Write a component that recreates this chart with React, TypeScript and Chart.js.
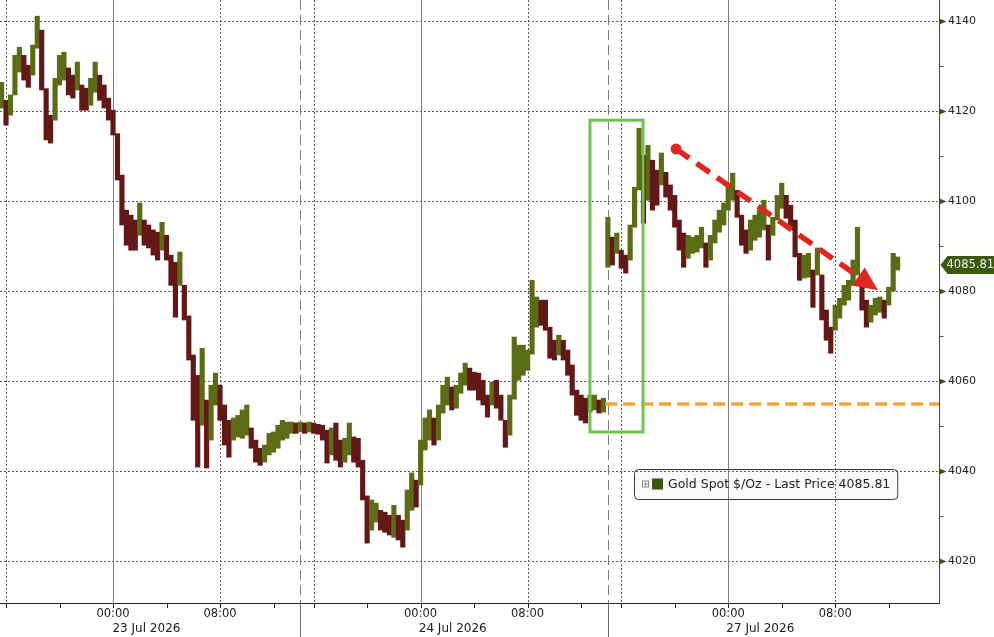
import React, { useEffect, useRef } from 'react';
import { Chart, registerables } from 'chart.js';

Chart.register(...registerables);

// ---------------- data ----------------
const BAR_START_HOUR = -25 / 3; // hours relative to 23 Jul 00:00 (session gaps removed)
const BAR_STEP_HOURS = 1 / 3;

const HIGHS = [
  4126.4, 4122.4, 4123.6, 4132.4, 4134.2, 4132.4, 4130.2, 4134.7, 4141.1, 4138.0,
  4125.0, 4119.1, 4127.3, 4132.4, 4133.1, 4129.6, 4128.0, 4130.9, 4125.8, 4125.1,
  4127.3, 4130.9, 4128.0, 4125.8, 4122.9, 4120.2, 4115.0, 4105.8, 4098.0, 4096.9,
  4095.8, 4099.6, 4095.8, 4094.7, 4093.6, 4093.1, 4095.3, 4092.4, 4088.0, 4086.4,
  4088.7, 4081.3, 4074.5, 4065.8, 4061.3, 4067.3, 4055.8, 4059.1, 4061.8, 4059.1,
  4054.7, 4051.3, 4051.8, 4052.4, 4053.6, 4054.7, 4049.6, 4046.9, 4045.1, 4045.8,
  4048.4, 4048.7, 4050.2, 4051.3, 4050.9, 4050.9, 4050.7, 4050.9, 4050.7, 4050.9,
  4050.7, 4050.4, 4050.2, 4049.1, 4049.6, 4050.7, 4046.9, 4047.3, 4050.7, 4047.6,
  4047.3, 4042.4, 4034.5, 4033.6, 4032.9, 4031.3, 4030.9, 4030.2, 4032.4, 4030.2,
  4029.1, 4035.8, 4039.6, 4038.0, 4046.9, 4051.8, 4053.6, 4051.8, 4054.7, 4059.1,
  4060.9, 4058.7, 4059.1, 4061.8, 4064.0, 4062.9, 4062.0, 4061.8, 4060.2, 4056.9,
  4059.8, 4060.2, 4056.9, 4051.3, 4056.9, 4069.8, 4068.0, 4068.0, 4066.9, 4082.4,
  4078.7, 4078.0, 4078.0, 4072.0, 4069.1, 4070.2, 4069.1, 4066.9, 4063.6, 4058.0,
  4056.9, 4056.2, 4056.9, 4056.9, 4055.8, 4056.2, 4096.4, 4092.0, 4092.9, 4089.1,
  4088.0, 4094.7, 4103.1, 4116.2, 4110.2, 4112.4, 4109.1, 4106.9, 4110.7, 4106.4,
  4103.6, 4101.3, 4095.8, 4092.9, 4092.4, 4092.0, 4092.4, 4094.2, 4090.7, 4092.4,
  4095.8, 4098.0, 4099.6, 4103.6, 4106.2, 4102.4, 4096.9, 4093.6, 4095.8, 4096.9,
  4098.0, 4100.2, 4094.7, 4096.4, 4101.3, 4104.0, 4101.3, 4099.1, 4095.8, 4088.4,
  4088.0, 4088.4, 4084.7, 4089.6, 4083.6, 4075.8, 4072.0, 4076.9, 4078.4, 4081.3,
  4082.4, 4086.9, 4094.2, 4083.6, 4078.0, 4076.9, 4078.4, 4078.7, 4078.0, 4080.9,
  4088.4, 4087.6,
];

const LOWS = [
  4120.7, 4116.9, 4119.1, 4123.6, 4128.7, 4126.9, 4125.3, 4128.0, 4134.0, 4124.7,
  4113.6, 4112.9, 4118.0, 4125.8, 4126.9, 4123.6, 4122.9, 4124.7, 4120.2, 4120.2,
  4121.3, 4124.2, 4122.4, 4120.7, 4118.0, 4114.7, 4104.7, 4094.7, 4090.2, 4089.1,
  4089.1, 4092.4, 4090.2, 4089.6, 4088.0, 4086.9, 4089.1, 4086.9, 4081.3, 4074.2,
  4081.3, 4073.6, 4064.7, 4051.3, 4040.9, 4050.2, 4040.7, 4046.9, 4054.7, 4051.3,
  4045.8, 4043.1, 4046.9, 4047.6, 4047.3, 4048.0, 4045.1, 4042.0, 4041.3, 4042.0,
  4043.6, 4044.2, 4045.1, 4046.9, 4047.3, 4048.4, 4048.4, 4048.7, 4048.4, 4048.7,
  4048.4, 4048.2, 4046.9, 4041.8, 4043.6, 4042.4, 4040.9, 4042.0, 4043.6, 4042.0,
  4040.9, 4033.6, 4024.0, 4026.9, 4028.7, 4026.9, 4026.4, 4025.8, 4025.3, 4024.7,
  4023.1, 4026.9, 4031.3, 4032.0, 4036.9, 4044.7, 4046.9, 4045.8, 4046.9, 4052.9,
  4054.7, 4053.6, 4054.0, 4057.3, 4059.1, 4058.0, 4058.0, 4055.8, 4054.7, 4052.0,
  4054.7, 4054.0, 4051.3, 4045.3, 4048.0, 4056.0, 4060.2, 4061.3, 4062.4, 4066.0,
  4072.0, 4072.4, 4071.3, 4065.1, 4064.7, 4065.8, 4064.7, 4061.3, 4056.9, 4052.4,
  4051.3, 4050.7, 4053.1, 4053.6, 4052.9, 4053.1, 4085.3, 4085.8, 4088.4, 4085.1,
  4084.0, 4086.9, 4094.2, 4102.5, 4095.1, 4100.2, 4098.0, 4099.1, 4103.6, 4100.9,
  4098.0, 4094.2, 4089.1, 4085.3, 4087.3, 4088.4, 4088.7, 4089.6, 4085.3, 4086.9,
  4090.7, 4093.1, 4094.7, 4098.0, 4100.2, 4096.4, 4090.2, 4088.4, 4089.1, 4091.3,
  4092.0, 4093.6, 4086.9, 4092.4, 4095.8, 4098.4, 4096.2, 4093.6, 4087.6, 4082.4,
  4082.9, 4083.1, 4076.4, 4083.6, 4073.6, 4069.1, 4066.2, 4071.3, 4074.0, 4076.9,
  4078.0, 4081.3, 4083.6, 4075.8, 4072.0, 4073.1, 4074.7, 4075.3, 4074.0, 4076.9,
  4080.0, 4084.7,
];

const LAST_PRICE = 4085.81;
const SERIES_NAME = 'Gold Spot $/Oz - Last Price';

const Y_MIN = 4010.7;
const Y_MAX = 4144.7;
const X_MIN = -8.45;
const X_MAX = 61.76;
const Y_TICKS = [4020, 4030, 4040, 4050, 4060, 4070, 4080, 4090, 4100, 4110, 4120, 4130, 4140];
const X_TICKS = [-8, -4, 0, 4, 8, 12, 15, 19, 23, 27, 31, 35, 38, 42, 46, 50, 54, 58];
const X_TICK_LABELS = ['', '', '00:00', '', '08:00', '', '', '', '00:00', '', '08:00', '', '', '', '00:00', '', '08:00', ''];
const MIDNIGHT_HOURS = [0, 23, 46];
const DOTTED_HOURS = [-8, 8, 15, 31, 38, 54];
const SESSION_BREAK_HOURS = [14, 37];
const DAY_LABELS = ['23 Jul 2026', '24 Jul 2026', '27 Jul 2026'];
const DAY_LABEL_HOURS = [2.5, 25.4, 48.4];

// annotations (data coordinates)
const HIGHLIGHT_HOURS = [35.66, 39.63];
const HIGHLIGHT_PRICES = [4048.7, 4118.0];
const REFERENCE_PRICE = 4054.9;
const REFERENCE_START_HOUR = 36.8;
const TREND_HOURS = [42.1, 57.2];
const TREND_PRICES = [4111.6, 4080.2];

// ---------------- styling ----------------
const FONT = '"DejaVu Sans", "Liberation Sans", Arial, sans-serif';
const UP_COLOR = '#5b6d14';
const DOWN_COLOR = '#631717';
const RIGHT_PAD = 55;
const BOTTOM_PAD = 34;
const LEGEND_X = 634;
const LEGEND_Y = 469;
const LEGEND_H = 30;

function strokeLine(ctx: CanvasRenderingContext2D, x1: number, y1: number, x2: number, y2: number) {
  ctx.beginPath();
  ctx.moveTo(x1, y1);
  ctx.lineTo(x2, y2);
  ctx.stroke();
}

function roundRectPath(ctx: CanvasRenderingContext2D, x: number, y: number, w: number, h: number, r: number) {
  ctx.beginPath();
  ctx.moveTo(x + r, y);
  ctx.lineTo(x + w - r, y);
  ctx.arcTo(x + w, y, x + w, y + r, r);
  ctx.lineTo(x + w, y + h - r);
  ctx.arcTo(x + w, y + h, x + w - r, y + h, r);
  ctx.lineTo(x + r, y + h);
  ctx.arcTo(x, y + h, x, y + h - r, r);
  ctx.lineTo(x, y + r);
  ctx.arcTo(x, y, x + r, y, r);
  ctx.closePath();
}

function legendText() {
  return `${SERIES_NAME} ${LAST_PRICE.toFixed(2)}`;
}

const decorPlugin = {
  id: 'decor',
  beforeDatasetsDraw(chart: any) {
    const ctx: CanvasRenderingContext2D = chart.ctx;
    const a = chart.chartArea;
    const xs = chart.scales.x;
    const ys = chart.scales.y;
    ctx.save();

    ctx.font = `12.5px ${FONT}`;
    const tw = ctx.measureText(legendText()).width;
    const legendW = 34 + tw + 7;
    ctx.fillStyle = 'rgba(246,246,246,0.55)';
    roundRectPath(ctx, LEGEND_X + 0.5, LEGEND_Y + 0.5, legendW, LEGEND_H, 4);
    ctx.fill();

    ctx.lineWidth = 1;
    ctx.strokeStyle = '#5c5c5c';
    ctx.setLineDash([2, 2]);
    for (const v of Y_TICKS) {
      if (v % 20 !== 0) continue;
      const y = Math.round(ys.getPixelForValue(v)) + 0.5;
      strokeLine(ctx, a.left, y, a.right, y);
    }
    for (const h of DOTTED_HOURS) {
      const x = Math.round(xs.getPixelForValue(h)) + 0.5;
      strokeLine(ctx, x, a.top, x, a.bottom);
    }
    ctx.strokeStyle = '#7d7d7d';
    ctx.setLineDash([10, 5]);
    for (const h of SESSION_BREAK_HOURS) {
      const x = Math.round(xs.getPixelForValue(h)) + 0.5;
      strokeLine(ctx, x, a.top, x, a.bottom);
    }
    ctx.setLineDash([]);
    ctx.strokeStyle = '#808080';
    for (const h of MIDNIGHT_HOURS) {
      const x = Math.round(xs.getPixelForValue(h)) + 0.5;
      strokeLine(ctx, x, a.top, x, a.bottom);
    }

    ctx.strokeStyle = '#3c3c3c';
    roundRectPath(ctx, LEGEND_X + 0.5, LEGEND_Y + 0.5, legendW, LEGEND_H, 4);
    ctx.stroke();
    const cy = LEGEND_Y + LEGEND_H / 2 + 0.5;
    ctx.strokeStyle = '#8a8a8a';
    ctx.strokeRect(LEGEND_X + 8.5, cy - 3.5, 6, 6);
    strokeLine(ctx, LEGEND_X + 10, cy - 0.5, LEGEND_X + 14, cy - 0.5);
    strokeLine(ctx, LEGEND_X + 11.5, cy - 2, LEGEND_X + 11.5, cy + 2);
    ctx.fillStyle = '#3a5a0c';
    ctx.fillRect(LEGEND_X + 18, cy - 6, 11, 11);
    ctx.fillStyle = '#1e1e1e';
    ctx.textAlign = 'left';
    ctx.textBaseline = 'middle';
    ctx.fillText(legendText(), LEGEND_X + 34, cy);
    ctx.restore();
  },
  afterDatasetsDraw(chart: any) {
    const ctx: CanvasRenderingContext2D = chart.ctx;
    const a = chart.chartArea;
    const xs = chart.scales.x;
    const ys = chart.scales.y;
    ctx.save();

    ctx.strokeStyle = '#f2a735';
    ctx.lineWidth = 3.5;
    ctx.setLineDash([12, 6]);
    const ry = ys.getPixelForValue(REFERENCE_PRICE);
    strokeLine(ctx, xs.getPixelForValue(REFERENCE_START_HOUR), ry, a.right, ry);

    ctx.setLineDash([]);
    ctx.strokeStyle = '#70c052';
    ctx.lineWidth = 3;
    const bx0 = xs.getPixelForValue(HIGHLIGHT_HOURS[0]);
    const bx1 = xs.getPixelForValue(HIGHLIGHT_HOURS[1]);
    const by0 = ys.getPixelForValue(HIGHLIGHT_PRICES[1]);
    const by1 = ys.getPixelForValue(HIGHLIGHT_PRICES[0]);
    ctx.strokeRect(bx0, by0, bx1 - bx0, by1 - by0);

    const sx = xs.getPixelForValue(TREND_HOURS[0]);
    const sy = ys.getPixelForValue(TREND_PRICES[0]);
    const ex = xs.getPixelForValue(TREND_HOURS[1]);
    const ey = ys.getPixelForValue(TREND_PRICES[1]);
    const len = Math.hypot(ex - sx, ey - sy);
    const ux = (ex - sx) / len;
    const uy = (ey - sy) / len;
    const head = 24;
    const half = 11;
    const red = '#e1251f';
    ctx.strokeStyle = red;
    ctx.fillStyle = red;
    ctx.lineWidth = 5.5;
    ctx.setLineDash([16, 9]);
    strokeLine(ctx, sx, sy, ex - ux * head, ey - uy * head);
    ctx.setLineDash([]);
    ctx.beginPath();
    ctx.arc(sx, sy, 5.5, 0, Math.PI * 2);
    ctx.fill();
    const bxh = ex - ux * head;
    const byh = ey - uy * head;
    ctx.beginPath();
    ctx.moveTo(ex, ey);
    ctx.lineTo(bxh - uy * half, byh + ux * half);
    ctx.lineTo(bxh + uy * half, byh - ux * half);
    ctx.closePath();
    ctx.fill();
    ctx.restore();
  },
  afterDraw(chart: any) {
    const ctx: CanvasRenderingContext2D = chart.ctx;
    const a = chart.chartArea;
    const xs = chart.scales.x;
    const ys = chart.scales.y;
    const H = chart.height;
    const W = chart.width;
    ctx.save();
    ctx.lineWidth = 1;
    ctx.setLineDash([]);

    ctx.strokeStyle = '#222222';
    strokeLine(ctx, a.left, a.bottom + 0.5, a.right + 1, a.bottom + 0.5);
    for (const h of X_TICKS) {
      const x = Math.round(xs.getPixelForValue(h)) + 0.5;
      strokeLine(ctx, x, a.bottom, x, a.bottom + 5);
    }
    ctx.strokeStyle = '#6e6e6e';
    for (const h of SESSION_BREAK_HOURS) {
      const x = Math.round(xs.getPixelForValue(h)) + 0.5;
      strokeLine(ctx, x, a.bottom, x, H);
    }
    ctx.fillStyle = '#202020';
    ctx.font = `11.5px ${FONT}`;
    ctx.textAlign = 'center';
    ctx.textBaseline = 'middle';
    X_TICKS.forEach((h, i) => {
      const lab = X_TICK_LABELS[i];
      if (lab) ctx.fillText(lab, xs.getPixelForValue(h), a.bottom + 11);
    });
    ctx.font = `12px ${FONT}`;
    DAY_LABELS.forEach((lab, i) => {
      ctx.fillText(lab, xs.getPixelForValue(DAY_LABEL_HOURS[i]), a.bottom + 26);
    });

    const rx = Math.round(a.right) + 0.5;
    ctx.strokeStyle = '#4b4b1f';
    strokeLine(ctx, rx, a.top, rx, a.bottom + 1);
    ctx.textAlign = 'left';
    ctx.font = `11px ${FONT}`;
    for (const v of Y_TICKS) {
      const y = Math.round(ys.getPixelForValue(v)) + 0.5;
      if (v % 20 === 0) {
        ctx.fillStyle = '#3b5412';
        ctx.beginPath();
        ctx.moveTo(rx, y - 3);
        ctx.lineTo(rx + 7, y);
        ctx.lineTo(rx, y + 3);
        ctx.closePath();
        ctx.fill();
        ctx.fillStyle = '#202020';
        ctx.fillText(String(v), rx + 8.5, y);
      } else {
        ctx.strokeStyle = '#555555';
        strokeLine(ctx, rx, y, rx + 4, y);
      }
    }

    const py = ys.getPixelForValue(LAST_PRICE);
    ctx.fillStyle = '#3b5a0e';
    ctx.beginPath();
    ctx.moveTo(rx + 1, py);
    ctx.lineTo(rx + 8, py - 9);
    ctx.lineTo(W, py - 9);
    ctx.lineTo(W, py + 9);
    ctx.lineTo(rx + 8, py + 9);
    ctx.closePath();
    ctx.fill();
    ctx.fillStyle = '#eaf5dc';
    ctx.font = `11.5px ${FONT}`;
    ctx.fillText(LAST_PRICE.toFixed(2), rx + 7, py + 0.5);
    ctx.restore();
  },
};

export default function App() {
  const canvasRef = useRef<HTMLCanvasElement | null>(null);

  useEffect(() => {
    if (!canvasRef.current) return;
    const points = HIGHS.map((h, i) => ({ x: BAR_START_HOUR + i * BAR_STEP_HOURS, y: [LOWS[i], h] }));
    const mids = HIGHS.map((h, i) => (h + LOWS[i]) / 2);
    const isUp = mids.map((m, i) => i === 0 || m >= mids[i - 1]);

    const chart = new Chart(canvasRef.current, {
      type: 'bar',
      data: {
        datasets: [
          {
            label: SERIES_NAME,
            data: points as any,
            backgroundColor: isUp.map((u) => (u ? UP_COLOR : DOWN_COLOR)),
            borderWidth: 0,
            barThickness: 4.5,
            grouped: false,
          } as any,
        ],
      },
      plugins: [decorPlugin],
      options: {
        animation: false,
        responsive: false,
        devicePixelRatio: 1,
        layout: { padding: { left: 0, top: 0, right: RIGHT_PAD, bottom: BOTTOM_PAD } },
        plugins: { legend: { display: false }, tooltip: { enabled: false } },
        scales: {
          x: { type: 'linear', min: X_MIN, max: X_MAX, offset: false, display: false, grid: { offset: false } },
          y: { type: 'linear', min: Y_MIN, max: Y_MAX, display: false },
        },
      } as any,
    });
    return () => chart.destroy();
  }, []);

  return (
    <div style={{ position: 'fixed', left: 0, top: 0, width: 994, height: 637, background: '#ffffff' }}>
      <canvas ref={canvasRef} width={994} height={637} style={{ display: 'block', width: 994, height: 637 }} />
    </div>
  );
}
